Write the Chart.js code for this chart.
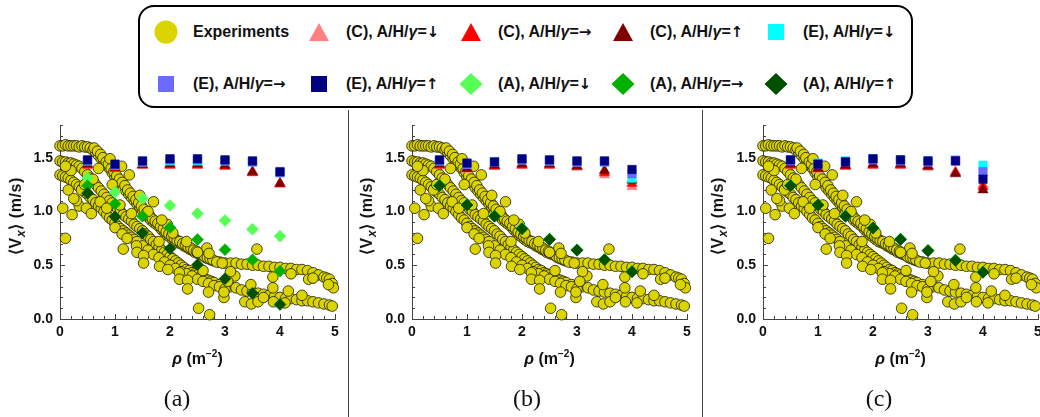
<!DOCTYPE html>
<html>
<head>
<meta charset="utf-8">
<script src="https://cdn.jsdelivr.net/npm/chart.js@4.4.0/dist/chart.umd.min.js"></script>
<style>
  body { margin: 0; background: #fff; }
  #page { position: relative; width: 1040px; height: 417px; overflow: hidden; font-family: "Liberation Sans", Arial, sans-serif; color: #111; }
  .panel { position: absolute; top: 110px; }
  .legend { position: absolute; left: 138px; top: 5px; width: 771px; height: 99px; border: 2px solid #000; border-radius: 16px; }
  .item { position: absolute; font-weight: bold; font-size: 16px; white-space: nowrap; transform: translateY(-50%); }
  .item .ar { font-family: "DejaVu Sans", sans-serif; font-size: 15px; }
  .mk { position: absolute; }
  .ytitle { position: absolute; font-weight: bold; font-size: 16px; letter-spacing: 0.6px; white-space: nowrap; transform: translate(-50%, -50%) rotate(-90deg); }
  .xtitle { position: absolute; font-weight: bold; font-size: 16px; white-space: nowrap; transform: translate(-50%, -50%); }
  .xtitle sup { font-size: 10px; }
  .ytitle sub { font-size: 12px; }
  .plabel { position: absolute; font-family: "Liberation Serif", serif; font-size: 24px; transform: translate(-50%, -50%); }
  .divider { position: absolute; top: 110px; width: 1px; height: 307px; background: #444; }
</style>
</head>
<body>
<div id="page">
  <div class="legend"></div>
  <div class="divider" style="left:348px"></div>
  <div class="divider" style="left:702px"></div>
  <canvas id="pa" class="panel" style="left:0px" width="346" height="240"></canvas>
  <canvas id="pb" class="panel" style="left:350px" width="348" height="240"></canvas>
  <canvas id="pc" class="panel" style="left:702px" width="347" height="240"></canvas>
</div>
<script>
// ---- experiments (same in all three panels) ----
const expUpper = [[0,1.61],[0.05,1.61],[0.1,1.62],[0.15,1.61],[0.2,1.61],[0.25,1.61],[0.3,1.61],[0.35,1.6],[0.4,1.61],[0.45,1.6],[0.5,1.6],[0.55,1.59],[0.6,1.57],[0.65,1.55],[0.7,1.52],[0.75,1.49],[0.8,1.46],[0.85,1.43],[0.9,1.4],[0.95,1.36],[1,1.32],[1.05,1.29],[1.1,1.26],[1.15,1.22],[1.2,1.19],[1.25,1.16],[1.3,1.13],[1.35,1.1],[1.4,1.07],[1.45,1.04],[1.5,1.01],[1.55,0.98],[1.6,0.95],[1.65,0.92],[1.7,0.9],[1.75,0.88],[1.8,0.86],[1.85,0.83],[1.9,0.81],[1.95,0.78],[2,0.76],[2.05,0.74],[2.1,0.72],[2.15,0.71],[2.2,0.7],[2.25,0.68],[2.3,0.67],[2.35,0.65],[2.4,0.64],[2.45,0.62],[2.5,0.61],[2.55,0.6],[2.6,0.59],[2.65,0.57],[2.7,0.56],[2.75,0.55],[2.8,0.54],[2.9,0.53],[3,0.52],[3.1,0.52],[3.2,0.52],[3.3,0.51],[3.4,0.51],[3.5,0.5],[3.6,0.5],[3.7,0.49],[3.8,0.49],[3.9,0.48],[4,0.48],[4.1,0.47],[4.2,0.47],[4.3,0.46],[4.4,0.46],[4.5,0.45],[4.6,0.43],[4.7,0.41],[4.8,0.39],[4.85,0.38],[4.9,0.37],[4.95,0.33],[4.97,0.29]];
const expUpper2 = [[0.62,1.59],[0.68,1.56],[0.74,1.53],[0.78,1.5],[0.84,1.46],[0.88,1.44],[0.93,1.4],[0.98,1.37],[1.03,1.33],[1.08,1.3],[1.13,1.27],[1.18,1.24],[1.23,1.2],[1.28,1.17],[1.33,1.14],[1.38,1.11],[1.43,1.08],[1.48,1.05],[1.53,1.02],[1.58,0.99],[1.63,0.96],[1.68,0.93],[1.73,0.91],[1.78,0.89],[1.83,0.86],[1.88,0.84],[1.93,0.81],[1.98,0.79],[2.03,0.77],[2.08,0.75],[2.13,0.73],[2.18,0.72],[2.23,0.7],[2.28,0.69],[2.33,0.67],[2.38,0.66],[2.43,0.64],[2.48,0.63],[2.53,0.61],[2.58,0.6],[2.63,0.58],[2.68,0.57],[2.73,0.56],[2.78,0.55],[2.85,0.53],[2.95,0.52]];
const expMiddle = [[0,1.47],[0.05,1.46],[0.1,1.46],[0.15,1.45],[0.2,1.45],[0.25,1.44],[0.3,1.43],[0.35,1.42],[0.4,1.4],[0.45,1.37],[0.5,1.34],[0.55,1.31],[0.6,1.28],[0.65,1.25],[0.7,1.22],[0.75,1.19],[0.8,1.16],[0.85,1.13],[0.9,1.1],[0.95,1.08],[1,1.05],[1.05,1.02],[1.1,1],[1.15,0.97],[1.2,0.95],[1.25,0.93],[1.3,0.91],[1.35,0.88],[1.4,0.86],[1.45,0.84],[1.5,0.82],[1.55,0.79],[1.6,0.77],[1.65,0.74],[1.7,0.72],[1.75,0.69],[1.8,0.67],[1.85,0.64],[1.9,0.62],[1.95,0.6],[2,0.58],[2.05,0.56],[2.1,0.54],[2.15,0.52],[2.2,0.5],[2.25,0.48],[2.3,0.46],[2.35,0.45],[2.4,0.43],[2.45,0.42],[2.5,0.41],[2.55,0.39],[2.6,0.38],[2.65,0.37],[2.7,0.36],[2.75,0.35],[2.8,0.34],[2.9,0.32],[3,0.31],[3.1,0.3],[3.2,0.29],[3.3,0.27],[3.4,0.26],[3.5,0.25],[3.6,0.24],[3.7,0.23],[3.8,0.22],[3.9,0.21],[4,0.2],[4.1,0.19],[4.2,0.19],[4.3,0.18],[4.4,0.17],[4.5,0.17],[4.6,0.16],[4.7,0.15],[4.8,0.14],[4.9,0.13],[4.95,0.12]];
const expLower = [[0,1.34],[0.05,1.33],[0.1,1.32],[0.15,1.31],[0.2,1.29],[0.25,1.27],[0.3,1.25],[0.35,1.23],[0.4,1.21],[0.45,1.18],[0.5,1.16],[0.55,1.13],[0.6,1.11],[0.65,1.08],[0.7,1.05],[0.75,1.03],[0.8,1],[0.85,0.97],[0.9,0.94],[0.95,0.92],[1,0.89],[1.05,0.86],[1.1,0.84],[1.15,0.82],[1.2,0.8],[1.25,0.78],[1.3,0.76],[1.35,0.74],[1.4,0.72],[1.5,0.68],[1.6,0.64],[1.7,0.6],[1.8,0.57],[1.9,0.53],[2,0.5],[2.1,0.47],[2.2,0.44],[2.3,0.42],[2.4,0.4],[2.5,0.37],[2.6,0.35],[2.7,0.33],[2.8,0.31],[2.9,0.3],[3,0.28]];
const expScatter = [[0.05,1.03],[0.1,0.75],[0.22,0.97],[0.35,1.05],[0.39,1.2],[0.48,1.03],[0.57,0.98],[0.73,1.09],[0.85,1.03],[0.91,1.49],[1.12,1.42],[1.26,1.34],[1.7,1.09],[1.09,1.06],[0.3,1.1],[0.25,1.12],[0.15,1.2],[0.45,1.25],[0.6,1.3],[0.7,1.4],[0.2,1.38],[0.1,1.42],[1,0.85],[1.13,0.79],[1.22,0.75],[1.39,0.68],[1.4,0.62],[1.52,0.59],[1.52,0.52],[1.81,0.49],[1.96,0.46],[2.17,0.43],[2.17,0.37],[2.32,0.36],[2.32,0.28],[2.52,0.1],[2.72,0.04],[2.67,0.66],[2.71,0.61],[3.58,0.65],[3.18,0.4],[3.47,0.32],[3.87,0.39],[3.87,0.29],[4.15,0.26],[4.4,0.22],[3.36,0.16],[3.48,0.14],[3.6,0.16],[3.88,0.16],[4.09,0.15],[2.98,0.2],[2.98,0.25],[2.7,0.25],[4.52,0.37],[4.88,0.32],[2.3,0.72],[2.5,0.62],[1.95,0.88],[1.85,0.92],[2.05,0.8],[1.6,1],[1.45,1.15],[0.95,1.25],[1.3,0.98],[1.8,0.72],[2.6,0.45],[3.1,0.44],[3.05,0.35],[3.7,0.2],[4.2,0.42],[4.6,0.38],[1.15,0.65]];

// ---- model runs, rho = 0.5 ... 4 ----
const rho = [0.5, 1, 1.5, 2, 2.5, 3, 3.5, 4];
// panel (a)
const aCdown  = [1.43, 1.4, 1.43, 1.43, 1.43, 1.42, 1.36, 1.25];
const aCright = [1.43, 1.4, 1.43, 1.43, 1.43, 1.42, 1.36, 1.26];
const aCup    = [1.44, 1.41, 1.435, 1.44, 1.44, 1.43, 1.37, 1.26];
const aEdown  = [1.47, 1.43, 1.46, 1.47, 1.47, 1.47, 1.46, 1.36];
const aEright = [1.47, 1.43, 1.46, 1.48, 1.48, 1.47, 1.46, 1.36];
const aEup    = [1.48, 1.44, 1.47, 1.49, 1.49, 1.48, 1.47, 1.37];
const aAdown  = [1.31, 1.18, 1.12, 1.055, 0.98, 0.915, 0.835, 0.77];
const aAright = [1.24, 1.07, 0.955, 0.85, 0.74, 0.645, 0.55, 0.445];
const aAup    = [1.17, 0.95, 0.8, 0.655, 0.505, 0.375, 0.24, 0.135];
// panel (b)
const bCdown  = [1.43, 1.39, 1.42, 1.43, 1.43, 1.41, 1.34, 1.23];
const bCright = [1.43, 1.4, 1.42, 1.43, 1.43, 1.42, 1.36, 1.26];
const bCup    = [1.44, 1.4, 1.43, 1.44, 1.44, 1.42, 1.38, 1.29];
const bEdown  = [1.47, 1.44, 1.46, 1.48, 1.47, 1.46, 1.46, 1.31];
const bEright = [1.47, 1.44, 1.46, 1.48, 1.47, 1.46, 1.46, 1.35];
const bEup    = [1.48, 1.45, 1.46, 1.49, 1.48, 1.47, 1.47, 1.39];
const bAdown  = [1.245, 1.065, 0.96, 0.845, 0.745, 0.645, 0.555, 0.445];
const bAright = [1.24, 1.06, 0.955, 0.84, 0.74, 0.64, 0.55, 0.44];
const bAup    = [1.24, 1.06, 0.955, 0.84, 0.74, 0.64, 0.55, 0.44];
// panel (c)
const cCdown  = [1.43, 1.39, 1.42, 1.43, 1.43, 1.41, 1.37, 1.25];
const cCright = [1.43, 1.4, 1.42, 1.43, 1.43, 1.42, 1.36, 1.23];
const cCup    = [1.44, 1.4, 1.43, 1.44, 1.44, 1.42, 1.35, 1.2];
const cEdown  = [1.48, 1.45, 1.47, 1.49, 1.48, 1.47, 1.48, 1.43];
const cEright = [1.47, 1.44, 1.46, 1.48, 1.47, 1.46, 1.47, 1.37];
const cEup    = [1.48, 1.44, 1.46, 1.49, 1.48, 1.47, 1.47, 1.3];
const cAdown  = [1.245, 1.065, 0.96, 0.85, 0.745, 0.64, 0.55, 0.44];
const cAright = [1.24, 1.06, 0.955, 0.845, 0.74, 0.635, 0.545, 0.435];
const cAup    = [1.24, 1.06, 0.955, 0.845, 0.74, 0.635, 0.545, 0.435];

// series look, same order as the legend
const seriesNames = ['(C), A/H/|=↓', '(C), A/H/|=→', '(C), A/H/|=↑', '(E), A/H/|=↓', '(E), A/H/|=→', '(E), A/H/|=↑', '(A), A/H/|=↓', '(A), A/H/|=→', '(A), A/H/|=↑'];
const seriesColors = ['#ff8080', '#ff0000', '#800000', '#00ffff', '#6b6bff', '#000080', '#55ff55', '#00b000', '#005000'];
const seriesShapes = ['triangle', 'triangle', 'triangle', 'rect', 'rect', 'rect', 'rectRot', 'rectRot', 'rectRot'];
const expColor = '#dbd400';

// inward tick marks
const innerTicks = {
  id: 'innerTicks',
  beforeDatasetsDraw(chart) {
    const { ctx, scales: { x, y } } = chart;
    ctx.save();
    ctx.strokeStyle = '#444';
    ctx.lineWidth = 1;
    ctx.beginPath();
    x.ticks.forEach(t => {
      const px = Math.round(x.getPixelForValue(t.value)) + 0.5;
      const len = Math.abs(t.value - Math.round(t.value)) < 1e-6 ? 5 : 3;
      ctx.moveTo(px, y.bottom);
      ctx.lineTo(px, y.bottom - len);
    });
    y.ticks.forEach(t => {
      const py = Math.round(y.getPixelForValue(t.value)) + 0.5;
      const len = Math.abs(t.value * 2 - Math.round(t.value * 2)) < 1e-6 ? 5 : 3;
      ctx.moveTo(x.left, py);
      ctx.lineTo(x.left + len, py);
    });
    ctx.stroke();
    ctx.restore();
  }
};

const tickFont = { family: 'Liberation Sans', weight: 'bold', size: 14 };

function makePanel(id, yWidth, runs) {
  const experiments = [].concat(expUpper, expUpper2, expMiddle, expLower, expScatter);
  const datasets = [{
    data: experiments.map(([x, y]) => ({ x, y })),
    pointStyle: 'circle',
    pointRadius: 5.3,
    backgroundColor: expColor,
    borderColor: 'rgba(30,30,0,0.8)',
    borderWidth: 1,
    order: 20,
    clip: false
  }];
  runs.forEach((vals, i) => {
    datasets.push({
      data: vals.map((v, k) => ({ x: rho[k], y: v })),
      pointStyle: seriesShapes[i],
      pointRadius: 6,
      backgroundColor: seriesColors[i],
      borderColor: seriesColors[i],
      borderWidth: 0.5,
      order: 9 - i,
      clip: false
    });
  });
  new Chart(document.getElementById(id), {
    type: 'scatter',
    data: { datasets },
    plugins: [innerTicks],
    options: {
      responsive: false,
      animation: false,
      events: [],
      layout: { padding: { top: 13, right: 11, left: 0, bottom: 0 } },
      plugins: { legend: { display: false }, tooltip: { enabled: false } },
      scales: {
        x: {
          type: 'linear', min: 0, max: 5,
          afterFit: s => { s.height = 31; },
          grid: { display: false, drawTicks: false },
          border: { display: true, color: '#444', width: 1 },
          ticks: {
            stepSize: 0.2, autoSkip: false, maxRotation: 0, padding: 5, color: '#111', font: tickFont,
            callback: v => Math.abs(v - Math.round(v)) < 1e-6 ? String(Math.round(v)) : ''
          }
        },
        y: {
          type: 'linear', min: 0, max: 1.8,
          afterFit: s => { s.width = yWidth; },
          grid: { display: false, drawTicks: false },
          border: { display: true, color: '#444', width: 1 },
          ticks: {
            stepSize: 0.1, autoSkip: false, padding: 7, color: '#111', font: tickFont,
            callback: v => Math.abs(v * 2 - Math.round(v * 2)) < 1e-6 ? v.toFixed(1) : ''
          }
        }
      }
    }
  });
}

makePanel('pa', 60, [aCdown, aCright, aCup, aEdown, aEright, aEup, aAdown, aAright, aAup]);
makePanel('pb', 62, [bCdown, bCright, bCup, bEdown, bEright, bEup, bAdown, bAright, bAup]);
makePanel('pc', 61, [cCdown, cCright, cCup, cEdown, cEright, cEup, cAdown, cAright, cAup]);

// ---- titles and panel letters ----
const page = document.getElementById('page');
function addText(cls, html, x, y) {
  const d = document.createElement('div');
  d.className = cls;
  d.innerHTML = html;
  d.style.left = x + 'px';
  d.style.top = y + 'px';
  page.appendChild(d);
}
[[60, 17, 177], [412, 368, 527], [763, 719, 879]].forEach(([left, yt, lab], i) => {
  addText('ytitle', '⟨V<sub><i>x</i></sub>⟩ (m/s)', yt, 216);
  addText('xtitle', '<i>ρ</i> (m<sup>−2</sup>)', left + 137.5, 358);
  addText('plabel', ['(a)', '(b)', '(c)'][i], lab, 398);
});

// ---- shared legend ----
const legendCols = [166, 319, 471, 623, 776];
const legendRows = [32, 84];
function markerSvg(shape, color) {
  if (shape === 'circle') return `<svg width="24" height="24"><circle cx="12" cy="12" r="11.5" fill="${color}"/></svg>`;
  if (shape === 'triangle') return `<svg width="24" height="24"><polygon points="12,3 22,21 2,21" fill="${color}"/></svg>`;
  if (shape === 'rect') return `<svg width="24" height="24"><rect x="4" y="4" width="16" height="16" fill="${color}"/></svg>`;
  return `<svg width="24" height="24"><polygon points="12,1 23.5,12 12,23 0.5,12" fill="${color}"/></svg>`;
}
const legendEntries = [['Experiments', 'circle', expColor]].concat(seriesNames.map((n, i) => [n, seriesShapes[i], seriesColors[i]]));
legendEntries.forEach(([name, shape, color], i) => {
  const cx = legendCols[i % 5], cy = legendRows[Math.floor(i / 5)];
  const m = document.createElement('div');
  m.className = 'mk';
  m.style.left = (cx - 12) + 'px';
  m.style.top = (cy - 12) + 'px';
  m.innerHTML = markerSvg(shape === 'rectRot' ? 'diamond' : shape, color);
  page.appendChild(m);
  const t = document.createElement('div');
  t.className = 'item';
  t.style.left = (cx + 27) + 'px';
  t.style.top = cy + 'px';
  t.innerHTML = name.replace('|', '<i>γ</i>').replace(/([↓→↑])/, '<span class="ar">$1</span>');
  page.appendChild(t);
});
</script>
</body>
</html>
